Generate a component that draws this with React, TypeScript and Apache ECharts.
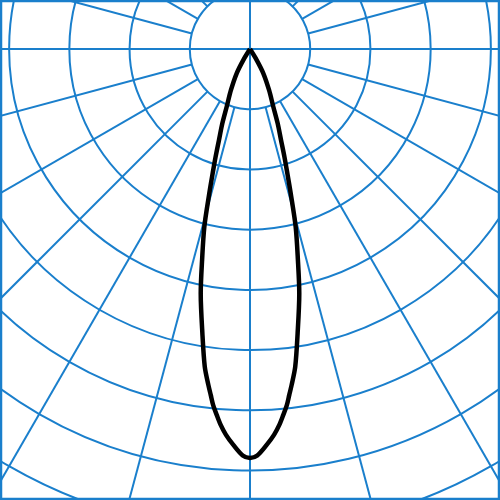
import React, { useEffect, useRef } from 'react'
import * as echarts from 'echarts'

// light distribution, gamma angle (deg from nadir) -> intensity (cd/klm, ring = 100)
const gammaAngles = [0, 1.03, 2.41, 3.56, 4.46, 5.2, 5.89, 6.48, 7.07, 8.1, 9.5, 11.4, 12.8, 14.4, 15.75, 16.9, 17.7, 18.8, 20.4, 22.0, 24.9, 28.7, 31.3, 34]
const intensity = [679, 675, 658, 642, 626, 610, 595, 578, 562, 533, 479, 414, 359, 305, 249, 210, 188, 160, 132, 103, 75, 46, 21, 0]

// grid rings and radial lines
const ringStep = 100
const ringMax = 900
const innerRing = 100
const radialAngles = [0, 15, 30, 45, 60, 75, 90, 105, 120, 135, 150, 165, 180, 195, 210, 225, 240, 255, 270, 285, 300, 315, 330, 345]
const fullAngles = [0, 90, 180, 270]

const BLUE = '#1a7fcc'

export default function App() {
  const chartRef: any = useRef()

  useEffect(() => {
    document.body.style.margin = '0'
    const myChart = echarts.init(chartRef.current, null, { renderer: 'svg' })

    // curve: left half (positive angles) then right half (negative), closed through the origin
    const curve: any[] = []
    for (let i = gammaAngles.length - 1; i >= 0; i--) curve.push([intensity[i], gammaAngles[i]])
    for (let i = 1; i < gammaAngles.length; i++) curve.push([intensity[i], -gammaAngles[i]])

    const radialSeries = radialAngles.map((a) => {
      const ang = a > 180 ? a - 360 : a
      const start = fullAngles.indexOf(a) >= 0 ? 0 : innerRing
      return {
        type: 'line',
        coordinateSystem: 'polar',
        data: [
          [start, ang],
          [ringMax, ang]
        ],
        symbol: 'none',
        silent: true,
        z: 1,
        lineStyle: { color: BLUE, width: 2 }
      }
    })

    const option = {
      animation: false,
      polar: { center: [250, 49], radius: 542 },
      angleAxis: {
        type: 'value',
        min: -180,
        max: 180,
        startAngle: 90,
        clockwise: true,
        axisLine: { show: false },
        axisTick: { show: false },
        axisLabel: { show: false },
        splitLine: { show: false }
      },
      radiusAxis: {
        type: 'value',
        min: 0,
        max: ringMax,
        interval: ringStep,
        axisLine: { show: false },
        axisTick: { show: false },
        axisLabel: { show: false },
        splitLine: { show: true, lineStyle: { color: BLUE, width: 2 } }
      },
      graphic: [
        {
          type: 'rect',
          shape: { x: 1, y: 1, width: 498, height: 498 },
          style: { fill: 'none', stroke: BLUE, lineWidth: 2.5 },
          z: 10
        }
      ],
      series: [
        ...radialSeries,
        {
          type: 'line',
          coordinateSystem: 'polar',
          data: curve,
          symbol: 'none',
          smooth: 0.3,
          silent: true,
          z: 5,
          lineStyle: { color: '#000000', width: 4.5, join: 'round' }
        }
      ]
    }
    myChart.setOption(option)
    return () => {
      myChart.dispose()
    }
  }, [])

  return <div ref={chartRef} style={{ width: '500px', height: '500px' }} />
}
